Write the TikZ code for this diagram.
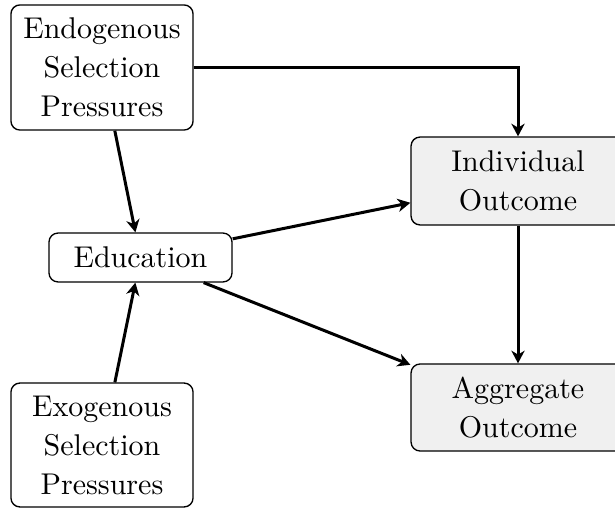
\documentclass[tikz,border=0pt]{standalone}
\usetikzlibrary{arrows.meta}
\definecolor{boxgray}{gray}{0.94}
\begin{document}
\begin{tikzpicture}[x=0.3333pt,y=-0.3333pt,
  box/.style={draw, rounded corners=3pt, line width=0.45pt, align=center,
    inner sep=0pt, font=\fontsize{10}{13}\selectfont},
  outbox/.style={box, fill=boxgray},
  link/.style={line width=1pt, -{Stealth[length=4.2pt,width=4.4pt,inset=1.3pt]}}]
\useasboundingbox (0,0) rectangle (615,508);

% selection pressures and education
\node[box, minimum width=60.7pt, minimum height=41.7pt] (endo) at (102,67.5)
  {Endogenous\\Selection\\Pressures};
\node[box, minimum width=61pt, minimum height=16.3pt] (edu) at (140.5,257.5)
  {Education};
\node[box, minimum width=60.7pt, minimum height=41.3pt] (exo) at (102,445)
  {Exogenous\\Selection\\Pressures};

% outcomes
\node[outbox, minimum width=71.3pt, minimum height=29.3pt] (ind) at (518,181)
  {Individual\\Outcome};
\node[outbox, minimum width=71.3pt, minimum height=29pt] (agg) at (518,407.5)
  {Aggregate\\Outcome};

% causal links
\draw[link] (endo.east) -| (ind.north);
\draw[link] (endo) -- (edu);
\draw[link] (exo) -- (edu);
\draw[link] (edu) -- (ind);
\draw[link] (edu) -- (agg);
\draw[link] (ind) -- (agg);
\end{tikzpicture}
\end{document}
